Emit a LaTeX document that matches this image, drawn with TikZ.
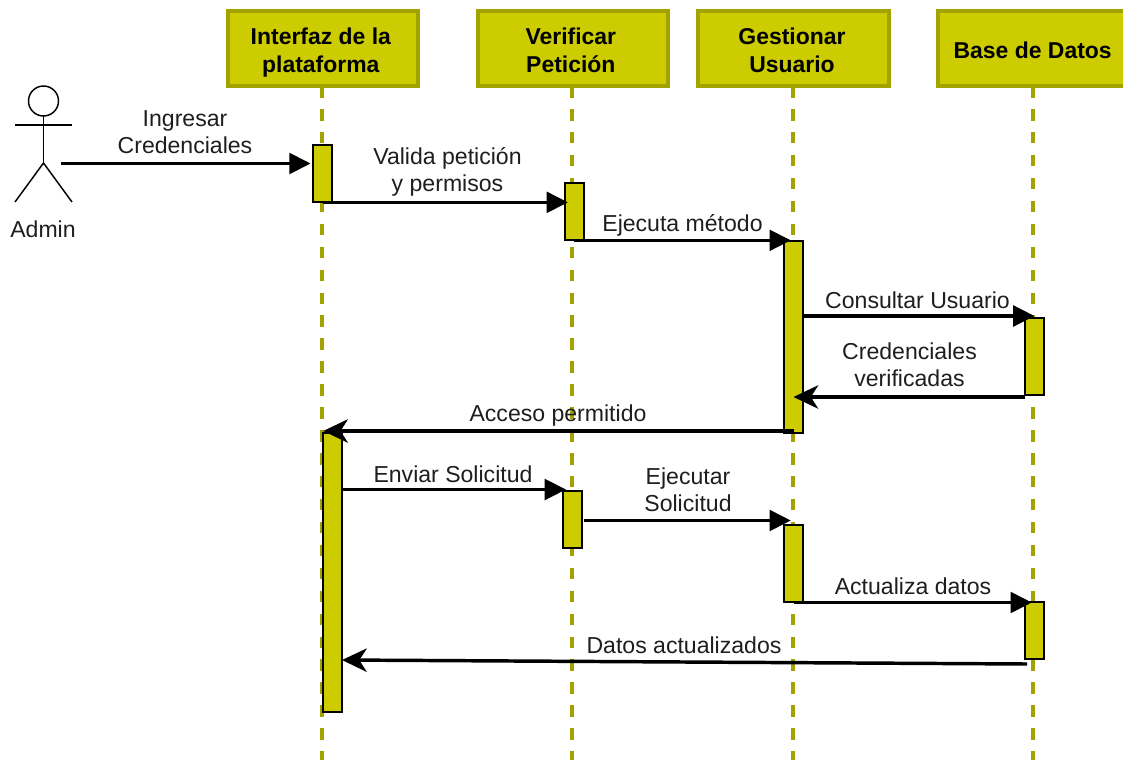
\documentclass[tikz,border=0pt]{standalone}
\usepackage{fontspec}
\setmainfont{Liberation Sans}
\usetikzlibrary{arrows.meta}
\definecolor{oliveline}{HTML}{A3A300}
\definecolor{olivefill}{HTML}{CCCC00}
\definecolor{labeltext}{HTML}{1E1E1E}
% header text: lowered by half of the top kern, and moved left by half of the side kern
\newcommand{\htext}[2]{\vbox{\kern7pt\hbox{\begin{tabular}{@{}c@{}}#2\end{tabular}\kern#1}}}
\tikzset{
  header/.style={draw=oliveline,fill=olivefill,line width=3pt,outer sep=0pt,minimum width=143pt,minimum height=56.7pt,inner sep=0pt,
    font=\fontsize{17.2}{20.5}\selectfont\bfseries,anchor=north west},
  lifeline/.style={draw=oliveline,line width=3pt,dash pattern=on 8.6pt off 8.6pt},
  activation/.style={draw=black,fill=olivefill,line width=1.5pt,outer sep=0pt,minimum width=13.8pt,inner sep=0pt,anchor=north},
  msgtext/.style={align=center,text=labeltext,font=\fontsize{17.3}{20.2}\selectfont,inner sep=0pt},
  fwd/.style={draw=black,line width=2.6pt,-{Triangle[length=16pt,width=15.5pt]}},
  back/.style={draw=black,line width=2.6pt,-{Stealth[length=18.5pt,width=17.5pt,inset=5.5pt]}},
  stick/.style={draw=black,line width=1.1pt},
}
\begin{document}
\begin{tikzpicture}[x=0.75pt,y=-0.75pt]
\clip (0,0) rectangle (1123,760);
\fill[white] (0,0) rectangle (1123,760);

% participants
\node[header] (h1) at (227.5,10.5) {\htext{3pt}{Interfaz de la\\plataforma}};
\node[header] (h2) at (477.5,10.5) {\htext{3pt}{Verificar\\Petición}};
\node[header] (h3) at (698,10.5) {\htext{2pt}{Gestionar\\Usuario}};
\node[header] (h4) at (938,10.5) {\htext{1pt}{Base de Datos}};

% lifeline ends
\coordinate (e1) at (322,760);
\coordinate (e2) at (572,760);
\coordinate (e3) at (793,760);
\coordinate (e4) at (1033,760);
\draw[lifeline] (h1.south -| e1) -- (e1);
\draw[lifeline] (h2.south -| e2) -- (e2);
\draw[lifeline] (h3.south -| e3) -- (e3);
\draw[lifeline] (h4.south -| e4) -- (e4);

% activations
\node[activation,minimum height=43pt] (a1) at (322.5,145) {};
\node[activation,minimum height=43pt] (a2) at (574.5,183) {};
\node[activation,minimum height=144pt] (a3) at (793.5,241) {};
\node[activation,minimum height=57.5pt] (a4) at (1034.5,318) {};
\node[activation,minimum height=209pt] (a5) at (332.5,433) {};
\node[activation,minimum height=42.5pt] (a6) at (572.5,491) {};
\node[activation,minimum height=57.5pt] (a7) at (793.5,525) {};
\node[activation,minimum height=43pt] (a8) at (1034.5,602) {};

% actor
\node[stick,circle,minimum size=22.5pt,inner sep=0pt,outer sep=0pt] (head) at (43.5,101) {};
\coordinate (hip) at (43.5,163);
\coordinate (armL) at (15,125);
\coordinate (armR) at (72,125);
\coordinate (legL) at (15,202);
\coordinate (legR) at (72,202);
\draw[stick] (head.south) -- (hip);
\draw[stick] (armL) -- (armR);
\draw[stick] (legL) -- (hip) -- (legR);
\node[msgtext] (admin) at (43,229.5) {Admin};

% message heights
\coordinate (startA) at (61,163.5);
\coordinate (y4) at (0,316);
\coordinate (y5) at (0,397);
\coordinate (y6) at (0,431);
\coordinate (y7) at (0,489.5);
\coordinate (y8) at (0,520.5);
\coordinate (y9) at (0,602.5);
\coordinate (s10) at (1027,664);
\coordinate (t10) at (342,660);

% messages
\draw[fwd] (startA) -- ([xshift=-2pt]a1.west |- startA);
\draw[fwd] (a1.south) -- ([xshift=2pt]a1.south -| a2.west);
\draw[fwd,shorten >=2pt] ([xshift=-7pt]a2.south east) -- (a2.south -| a3.north);
\draw[fwd] (a3.east |- y4) -- (a4.north |- y4);
\draw[back] (a4.west |- y5) -- (a3.north |- y5);
\draw[back] (a3.north |- y6) -- ([xshift=-7pt]a5.north |- y6);
\draw[fwd] (a5.east |- y7) -- ([xshift=2pt]a6.west |- y7);
\draw[fwd,shorten >=2pt] ([xshift=1.5pt]a6.east |- y8) -- (a7.north |- y8);
\draw[fwd,shorten >=2pt] (a3.north |- y9) -- (a8.north |- y9);
\draw[back] (s10) -- (t10);

% message labels
\node[msgtext] (m1) at (185,132) {Ingresar\\Credenciales};
\node[msgtext] (m2) at (447.5,171.5) {Valida petición\\y permisos};
\node[msgtext] (m3) at (682.5,225.5) {Ejecuta método};
\node[msgtext] (m4) at (917.5,300) {Consultar Usuario};
\node[msgtext] (m5) at (909.5,365) {Credenciales\\verificadas};
\node[msgtext] (m6) at (558,416) {Acceso permitido};
\node[msgtext] (m7) at (453,474) {Enviar Solicitud};
\node[msgtext] (m8) at (688,490) {Ejecutar\\Solicitud};
\node[msgtext] (m9) at (913,586) {Actualiza datos};
\node[msgtext] (m10) at (684,645.5) {Datos actualizados};
\end{tikzpicture}
\end{document}
